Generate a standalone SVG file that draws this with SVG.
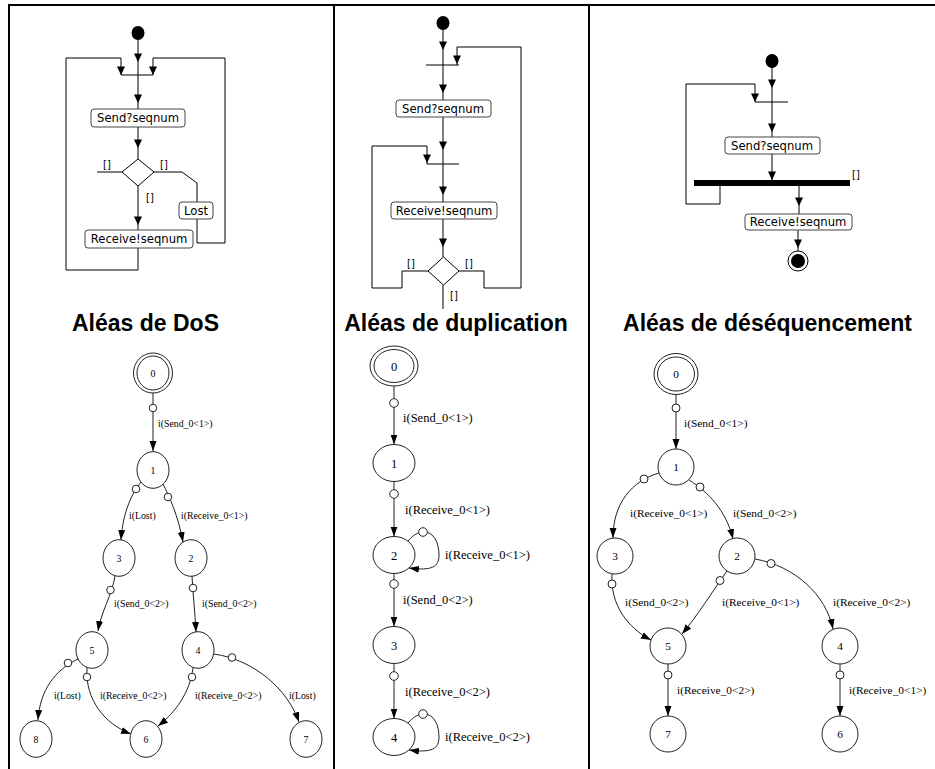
<svg xmlns="http://www.w3.org/2000/svg" xmlns:xlink="http://www.w3.org/1999/xlink" width="935" height="769" viewBox="0 0 935 769">
  <style>
    .frame { stroke: #000; stroke-width: 2; fill: none; }
    .act { stroke: #000; stroke-width: 1; fill: none; }
    .box { fill: #fff; stroke: #444; stroke-width: 1; }
    .atxt { font-family: "DejaVu Sans", "Liberation Sans", sans-serif; font-size: 11.6px; fill: #000; text-anchor: middle; }
    .grd { font-family: "DejaVu Sans", "Liberation Sans", sans-serif; font-size: 10px; fill: #000; }
    .title { font-family: "Liberation Sans", Arial, sans-serif; font-size: 23px; font-weight: bold; fill: #000; text-anchor: middle; }
    .edge { stroke: #222; stroke-width: 1; fill: none; marker-end: url(#arr); }
    .tick { fill: #fff; stroke: #222; stroke-width: 1; }
    .st { fill: #fff; stroke: #222; stroke-width: 1; }
    .lbl { font-family: "Liberation Serif", "Times New Roman", serif; fill: #000; }
    .c1 { font-size: 9.8px; }
    .c2 { font-size: 12.5px; }
    .c3 { font-size: 11.4px; }
    .num { text-anchor: middle; }
  </style>
  <defs>
    <path id="ah" d="M-4,-8.5 L4,-8.5 L0,0 z" fill="#000"/>
    <marker id="arr" markerUnits="userSpaceOnUse" viewBox="0 0 10 8" markerWidth="10" markerHeight="8" refX="10" refY="4" orient="auto">
      <path d="M0,0.5 L10,4 L0,7.5 z" fill="#000"/>
    </marker>
  </defs>

  <rect width="935" height="769" fill="#fff"/>

  <!-- table rules -->
  <g id="table">
    <line class="frame" x1="9" y1="5" x2="935" y2="5"/>
    <line class="frame" x1="9" y1="4" x2="9" y2="769"/>
    <line class="frame" x1="334" y1="4" x2="334" y2="769"/>
    <line class="frame" x1="589" y1="4" x2="589" y2="769"/>
  </g>

  <!-- ===== activity diagram: DoS ===== -->
  <g id="act-dos">
    <g id="act-dos-connectors">
      <line class="act" x1="138" y1="38" x2="138" y2="109"/>
      <polyline class="act" points="121,75 121,58 66,58 66,270 138,270 138,248"/>
      <polyline class="act" points="153,75 153,58 225,58 225,243 197,243 197,219"/>
      <line class="act" x1="138" y1="127" x2="138" y2="159"/>
      <line class="act" x1="122" y1="172" x2="97" y2="172"/>
      <polyline class="act" points="154,172 182,172 197,183 197,202"/>
      <line class="act" x1="138" y1="186" x2="138" y2="230"/>
      <use href="#ah" x="138" y="62"/>
      <use href="#ah" x="121" y="75"/>
      <use href="#ah" x="153" y="75"/>
      <use href="#ah" x="138" y="103"/>
      <use href="#ah" x="138" y="148"/>
      <use href="#ah" x="138" y="225"/>
      <text class="grd" x="103" y="168">[]</text>
      <text class="grd" x="160" y="168">[]</text>
      <text class="grd" x="146" y="201">[]</text>
    </g>
    <g id="dos-start"><ellipse cx="138" cy="33" rx="6.5" ry="7" fill="#000"/></g>
    <g id="dos-join"><line class="act" x1="121" y1="75" x2="153" y2="75"/></g>
    <g id="dos-send"><rect class="box" x="91" y="109" width="94" height="18" rx="3"/><text class="atxt" x="138" y="122">Send?seqnum</text></g>
    <g id="dos-choice"><polygon class="box" points="138,159 154,172 138,186 122,172" style="stroke:#000"/></g>
    <g id="dos-lost"><rect class="box" x="179" y="202" width="34" height="17" rx="3"/><text class="atxt" x="196" y="214.5">Lost</text></g>
    <g id="dos-receive"><rect class="box" x="85" y="230" width="108" height="18" rx="3"/><text class="atxt" x="139" y="243">Receive!seqnum</text></g>
  </g>

  <!-- ===== activity diagram: duplication ===== -->
  <g id="act-dup">
    <g id="act-dup-connectors">
      <line class="act" x1="443" y1="28" x2="443" y2="100"/>
      <polyline class="act" points="457,65 457,47 521,47 521,288 484,288 484,271 459,271"/>
      <line class="act" x1="443" y1="117" x2="443" y2="202"/>
      <polyline class="act" points="427,164 427,146 372,146 372,288 402,288 402,271 428,271"/>
      <line class="act" x1="443" y1="219" x2="443" y2="257"/>
      <line class="act" x1="443" y1="285" x2="443" y2="309"/>
      <use href="#ah" x="443" y="50"/>
      <use href="#ah" x="457" y="64"/>
      <use href="#ah" x="443" y="93"/>
      <use href="#ah" x="443" y="150"/>
      <use href="#ah" x="427" y="163"/>
      <use href="#ah" x="443" y="195"/>
      <use href="#ah" x="443" y="247"/>
      <text class="grd" x="407" y="267">[]</text>
      <text class="grd" x="465" y="267">[]</text>
      <text class="grd" x="450" y="299">[]</text>
    </g>
    <g id="dup-start"><ellipse cx="443" cy="23" rx="6.5" ry="7" fill="#000"/></g>
    <g id="dup-join1"><line class="act" x1="426" y1="65" x2="459" y2="65"/></g>
    <g id="dup-send"><rect class="box" x="396" y="100" width="95" height="17" rx="3"/><text class="atxt" x="443" y="112.5">Send?seqnum</text></g>
    <g id="dup-join2"><line class="act" x1="427" y1="164" x2="459" y2="164"/></g>
    <g id="dup-receive"><rect class="box" x="391" y="202" width="106" height="17" rx="3"/><text class="atxt" x="444" y="214.5">Receive!seqnum</text></g>
    <g id="dup-choice"><polygon class="box" points="443.5,257 459,271 443.5,285 428,271" style="stroke:#000"/></g>
  </g>

  <!-- ===== activity diagram: reordering ===== -->
  <g id="act-seq">
    <g id="act-seq-connectors">
      <line class="act" x1="772" y1="66" x2="772" y2="137"/>
      <polyline class="act" points="755,102 755,84 686,84 686,204 720,204 720,186"/>
      <line class="act" x1="772" y1="154" x2="772" y2="180"/>
      <line class="act" x1="799" y1="186" x2="799" y2="214"/>
      <line class="act" x1="798" y1="230" x2="798" y2="251"/>
      <use href="#ah" x="772" y="88"/>
      <use href="#ah" x="755" y="102"/>
      <use href="#ah" x="772" y="132"/>
      <use href="#ah" x="772" y="180"/>
      <use href="#ah" x="799" y="206"/>
      <use href="#ah" x="798" y="248"/>
      <text class="grd" x="852" y="178">[]</text>
    </g>
    <g id="seq-start"><ellipse cx="772" cy="61" rx="6.5" ry="7" fill="#000"/></g>
    <g id="seq-join"><line class="act" x1="755" y1="102" x2="788" y2="102"/></g>
    <g id="seq-send"><rect class="box" x="725" y="137" width="95" height="17" rx="3"/><text class="atxt" x="772" y="149.5">Send?seqnum</text></g>
    <g id="seq-fork"><rect x="694" y="180" width="156" height="6" fill="#000"/></g>
    <g id="seq-receive"><rect class="box" x="745" y="214" width="107" height="16" rx="3"/><text class="atxt" x="798" y="226">Receive!seqnum</text></g>
    <g id="seq-end"><circle cx="798" cy="261" r="10" fill="#fff" stroke="#000"/><circle cx="798" cy="261" r="7" fill="#000"/></g>
  </g>

  <!-- ===== titles ===== -->
  <text class="title" x="145.5" y="331">Aléas de DoS</text>
  <text class="title" x="456" y="331">Aléas de duplication</text>
  <text class="title" x="767.5" y="331">Aléas de déséquencement</text>

  <!-- ===== state graph: DoS ===== -->
  <g id="lts-dos">
    <g id="lts-dos-edges">
      <line class="edge" x1="153" y1="393" x2="153" y2="451"/>
      <path class="edge" d="M141,482 C133,492 123,510 121,540"/>
      <path class="edge" d="M163,484 C169,496 178,515 183,542"/>
      <path class="edge" d="M115,576 C112,595 101,612 98,631"/>
      <path class="edge" d="M192,576 C193,595 195,612 196,632"/>
      <path class="edge" d="M78,659 C55,670 40,690 38,720"/>
      <path class="edge" d="M87,668 C85,700 105,724 131,734"/>
      <path class="edge" d="M193,668 C190,692 176,712 158,726"/>
      <path class="edge" d="M214,654 C255,660 288,690 299,722"/>
      <circle class="tick" cx="153" cy="408" r="3.8"/>
      <circle class="tick" cx="136" cy="489" r="3.8"/>
      <circle class="tick" cx="168" cy="497" r="3.8"/>
      <circle class="tick" cx="110.5" cy="590" r="3.8"/>
      <circle class="tick" cx="193" cy="588" r="3.8"/>
      <circle class="tick" cx="68" cy="663" r="3.8"/>
      <circle class="tick" cx="87" cy="677" r="3.8"/>
      <circle class="tick" cx="192" cy="677" r="3.8"/>
      <circle class="tick" cx="232" cy="657.5" r="3.8"/>
      <text class="lbl c1" x="158" y="427">i(Send_0&lt;1&gt;)</text>
      <text class="lbl c1" x="129" y="519">i(Lost)</text>
      <text class="lbl c1" x="181" y="519">i(Receive_0&lt;1&gt;)</text>
      <text class="lbl c1" x="114" y="607">i(Send_0&lt;2&gt;)</text>
      <text class="lbl c1" x="202" y="607">i(Send_0&lt;2&gt;)</text>
      <text class="lbl c1" x="54" y="699">i(Lost)</text>
      <text class="lbl c1" x="100" y="699">i(Receive_0&lt;2&gt;)</text>
      <text class="lbl c1" x="195" y="699">i(Receive_0&lt;2&gt;)</text>
      <text class="lbl c1" x="289" y="699">i(Lost)</text>
    </g>
    <g id="dos-s0"><ellipse class="st" cx="153" cy="373" rx="19.5" ry="20"/><ellipse class="st" cx="153" cy="373" rx="16" ry="17"/><text class="lbl c1 num" x="153" y="377">0</text></g>
    <g id="dos-s1"><ellipse class="st" cx="153" cy="470" rx="16" ry="18.3"/><text class="lbl c1 num" x="153" y="474">1</text></g>
    <g id="dos-s3"><ellipse class="st" cx="119" cy="558" rx="16" ry="18.3"/><text class="lbl c1 num" x="119" y="562">3</text></g>
    <g id="dos-s2"><ellipse class="st" cx="191" cy="558" rx="16" ry="18.3"/><text class="lbl c1 num" x="191" y="562">2</text></g>
    <g id="dos-s5"><ellipse class="st" cx="92" cy="650" rx="16" ry="18.3"/><text class="lbl c1 num" x="92" y="654">5</text></g>
    <g id="dos-s4"><ellipse class="st" cx="198" cy="650" rx="16" ry="18.3"/><text class="lbl c1 num" x="198" y="654">4</text></g>
    <g id="dos-s8"><ellipse class="st" cx="36" cy="739" rx="16" ry="18.3"/><text class="lbl c1 num" x="36" y="743">8</text></g>
    <g id="dos-s6"><ellipse class="st" cx="146" cy="739" rx="16" ry="18.3"/><text class="lbl c1 num" x="146" y="743">6</text></g>
    <g id="dos-s7"><ellipse class="st" cx="306" cy="739" rx="16" ry="18.3"/><text class="lbl c1 num" x="306" y="743">7</text></g>
  </g>

  <!-- ===== state graph: duplication ===== -->
  <g id="lts-dup">
    <g id="lts-dup-edges">
      <line class="edge" x1="394" y1="386" x2="394" y2="444.5"/>
      <line class="edge" x1="394" y1="481.5" x2="394" y2="536.5"/>
      <line class="edge" x1="394" y1="573.5" x2="394" y2="626.5"/>
      <line class="edge" x1="394" y1="663.5" x2="394" y2="718.5"/>
      <path class="edge" d="M408,541 C414,534 419,532 424,532 C434,532 439,543 439,555 C439,567 432,571 409,568"/>
      <path class="edge" d="M408,723 C414,716 419,714 424,714 C434,714 439,725 439,737 C439,749 432,753 409,750"/>
      <circle class="tick" cx="394" cy="403" r="4.3"/>
      <circle class="tick" cx="394" cy="494" r="4.3"/>
      <circle class="tick" cx="394" cy="584" r="4.3"/>
      <circle class="tick" cx="394" cy="676" r="4.3"/>
      <circle class="tick" cx="423" cy="532" r="4.3"/>
      <circle class="tick" cx="423" cy="714" r="4.3"/>
      <text class="lbl c2" x="403" y="422">i(Send_0&lt;1&gt;)</text>
      <text class="lbl c2" x="405" y="514">i(Receive_0&lt;1&gt;)</text>
      <text class="lbl c2" x="445" y="559">i(Receive_0&lt;1&gt;)</text>
      <text class="lbl c2" x="403" y="604">i(Send_0&lt;2&gt;)</text>
      <text class="lbl c2" x="405" y="696">i(Receive_0&lt;2&gt;)</text>
      <text class="lbl c2" x="445" y="741">i(Receive_0&lt;2&gt;)</text>
    </g>
    <g id="dup-s0"><ellipse class="st" cx="394" cy="366" rx="24" ry="20"/><ellipse class="st" cx="394" cy="366" rx="20" ry="16.5"/><text class="lbl c2 num" x="394" y="370.5">0</text></g>
    <g id="dup-s1"><ellipse class="st" cx="394" cy="463" rx="21" ry="18.5"/><text class="lbl c2 num" x="394" y="467.5">1</text></g>
    <g id="dup-s2"><ellipse class="st" cx="394" cy="555" rx="21" ry="18.5"/><text class="lbl c2 num" x="394" y="559.5">2</text></g>
    <g id="dup-s3"><ellipse class="st" cx="394" cy="645" rx="21" ry="18.5"/><text class="lbl c2 num" x="394" y="649.5">3</text></g>
    <g id="dup-s4"><ellipse class="st" cx="394" cy="737" rx="21" ry="18.5"/><text class="lbl c2 num" x="394" y="741.5">4</text></g>
  </g>

  <!-- ===== state graph: reordering ===== -->
  <g id="lts-seq">
    <g id="lts-seq-edges">
      <line class="edge" x1="676" y1="394.5" x2="676" y2="449"/>
      <path class="edge" d="M659,473 C632,481 613,503 613,538"/>
      <path class="edge" d="M689,480 C708,492 726,510 733,539"/>
      <path class="edge" d="M612,574 C610,605 628,628 651,640"/>
      <path class="edge" d="M727,571 C712,592 698,615 682,634"/>
      <path class="edge" d="M755,559 C795,566 826,595 833,629"/>
      <line class="edge" x1="668" y1="664" x2="668" y2="716"/>
      <line class="edge" x1="840" y1="664" x2="840" y2="716"/>
      <circle class="tick" cx="676" cy="408" r="4"/>
      <circle class="tick" cx="644" cy="479" r="4"/>
      <circle class="tick" cx="700" cy="487" r="4"/>
      <circle class="tick" cx="612" cy="584" r="4"/>
      <circle class="tick" cx="720" cy="580.5" r="4"/>
      <circle class="tick" cx="771" cy="563.5" r="4"/>
      <circle class="tick" cx="668" cy="675" r="4"/>
      <circle class="tick" cx="840" cy="675" r="4"/>
      <text class="lbl c3" x="684" y="427">i(Send_0&lt;1&gt;)</text>
      <text class="lbl c3" x="630" y="517">i(Receive_0&lt;1&gt;)</text>
      <text class="lbl c3" x="733" y="517">i(Send_0&lt;2&gt;)</text>
      <text class="lbl c3" x="625" y="606">i(Send_0&lt;2&gt;)</text>
      <text class="lbl c3" x="722" y="606">i(Receive_0&lt;1&gt;)</text>
      <text class="lbl c3" x="833" y="606">i(Receive_0&lt;2&gt;)</text>
      <text class="lbl c3" x="677" y="694">i(Receive_0&lt;2&gt;)</text>
      <text class="lbl c3" x="849" y="694">i(Receive_0&lt;1&gt;)</text>
    </g>
    <g id="seq-s0"><ellipse class="st" cx="676" cy="374" rx="22" ry="20.5"/><ellipse class="st" cx="676" cy="374" rx="18.5" ry="17"/><text class="lbl c3 num" x="676" y="378">0</text></g>
    <g id="seq-s1"><circle class="st" cx="676" cy="467" r="18"/><text class="lbl c3 num" x="676" y="471">1</text></g>
    <g id="seq-s3"><circle class="st" cx="615" cy="556" r="18"/><text class="lbl c3 num" x="615" y="560">3</text></g>
    <g id="seq-s2"><circle class="st" cx="737" cy="556" r="18"/><text class="lbl c3 num" x="737" y="560">2</text></g>
    <g id="seq-s5"><circle class="st" cx="668" cy="646" r="18"/><text class="lbl c3 num" x="668" y="650">5</text></g>
    <g id="seq-s4"><circle class="st" cx="840" cy="646" r="18"/><text class="lbl c3 num" x="840" y="650">4</text></g>
    <g id="seq-s7"><circle class="st" cx="668" cy="734" r="18"/><text class="lbl c3 num" x="668" y="738">7</text></g>
    <g id="seq-s6"><circle class="st" cx="840" cy="734" r="18"/><text class="lbl c3 num" x="840" y="738">6</text></g>
  </g>
</svg>
